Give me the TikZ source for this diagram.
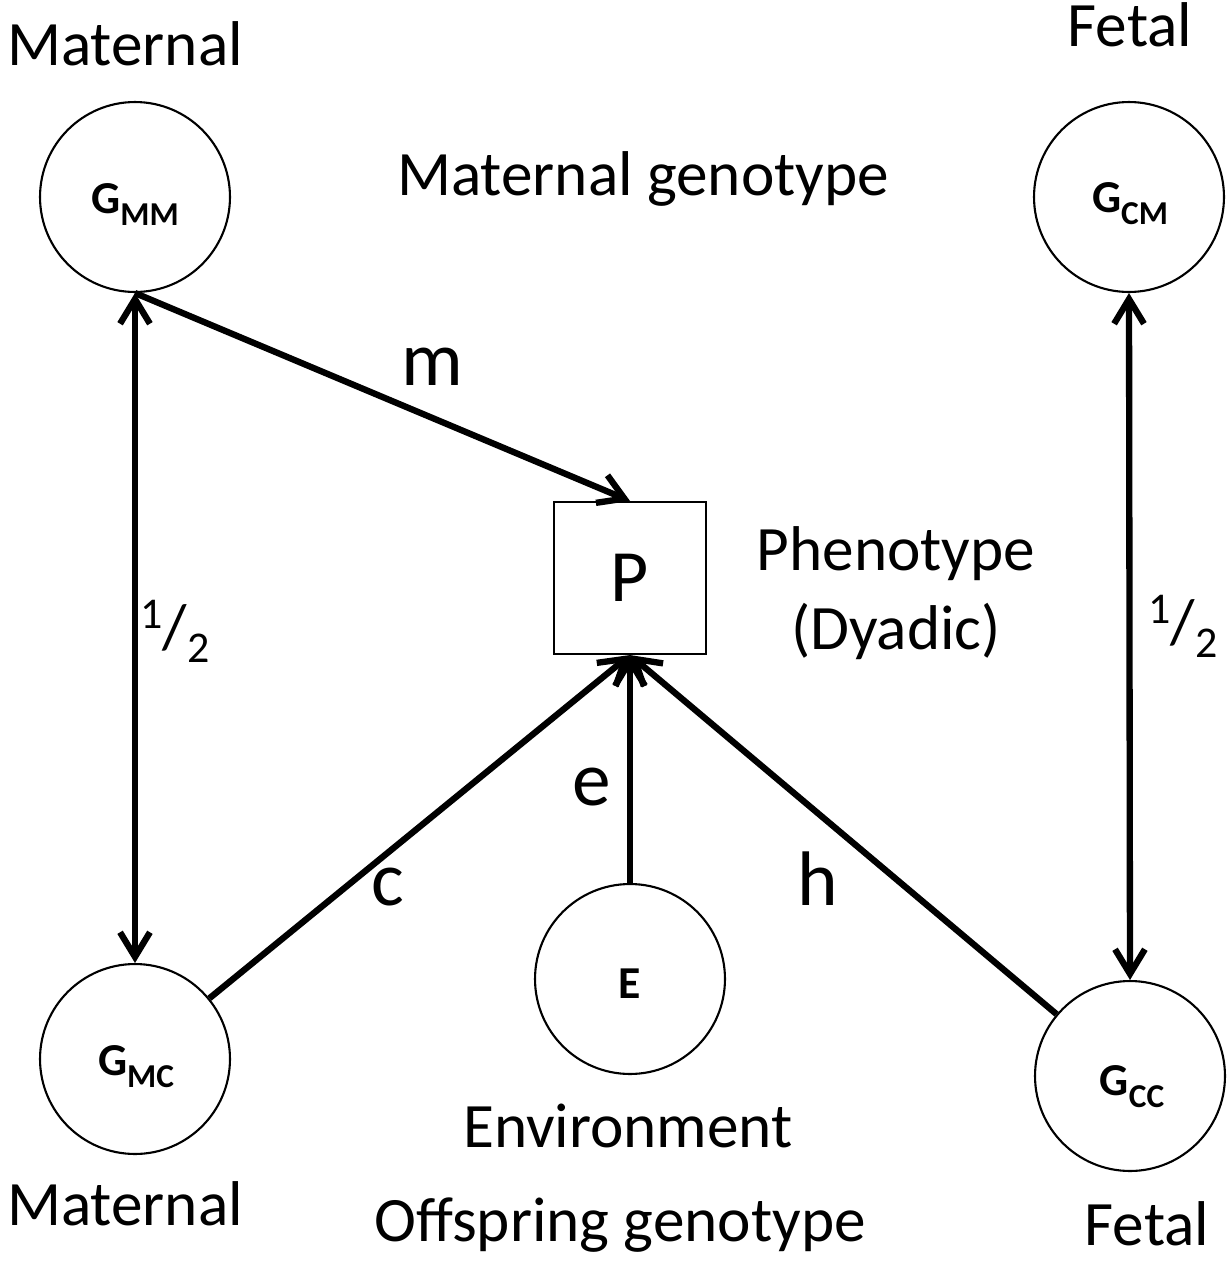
\documentclass[tikz,border=0pt]{standalone}
\usepackage{fontspec}
\setmainfont{Carlito}
\usetikzlibrary{arrows.meta}
\tikzset{>={Straight Barb[length=14pt,width=17pt]}}
\tikzset{
	gnode/.style={circle, draw, line width=1.2pt, minimum size=3.8cm, inner sep=0pt},
	pbox/.style={draw, line width=1.2pt, minimum size=3.04cm, inner sep=0pt, font=\fontsize{42}{48}\selectfont},
	path/.style={line width=3.6pt},
	txt/.style={anchor=base, inner sep=0pt, font=\fontsize{36}{42}\selectfont},
	coef/.style={anchor=base, inner sep=0pt, font=\fontsize{44}{50}\selectfont},
	glab/.style={anchor=base, inner sep=0pt, font=\bfseries\fontsize{26}{30}\selectfont}
}
\newcommand{\gsub}[1]{G\raisebox{-7pt}{\fontsize{19}{22}\selectfont #1}}
\newcommand{\half}{\raisebox{11pt}{\fontsize{25}{28}\selectfont 1}/\raisebox{-8pt}{\fontsize{25}{28}\selectfont 2}}

\begin{document}
\begin{tikzpicture}[x=0.02cm, y=-0.02cm]
	\useasboundingbox (0,0) rectangle (1229,1265);

	% nodes
	\node[gnode] (gmm) at (135,197) {};
	\node[gnode] (gcm) at (1129,197) {};
	\node[gnode] (gmc) at (135,1059) {};
	\node[gnode] (gcc) at (1130,1076) {};
	\node[gnode] (env) at (630,979) {};
	\node[pbox] (p) at (630,578) {P};

	\node[glab] (lgmm) at (135,213) {\gsub{MM}};
	\node[glab] (lgcm) at (1130,212) {\gsub{CM}};
	\node[glab] (lgmc) at (136,1075) {\gsub{MC}};
	\node[glab] (lgcc) at (1132,1095) {\gsub{CC}};
	\node[glab] (lenv) at (630,998) {E};

	% paths
	\draw[path][<->](gmm.south)--(gmc.north);
	\draw[path][<->](gcm.south)--(gcc.north);
	\draw[path][->](gmm.south)--(p.north);
	\draw[path][->](gmc)--(p.south);
	\draw[path][->](env.north)--(p.south);
	\draw[path][->](gcc)--(p.south);

	% texts
	\node[txt] (tmat1) at (125,65){Maternal};
	\node[txt] (tfet1) at (1130,46){Fetal};
	\node[txt] (tmgen) at (643,195){Maternal genotype};
	\node[txt] (tphen) at (896,570){Phenotype};
	\node[txt] (tdyad) at (896,649){(Dyadic)};
	\node[txt] (tenv) at (628,1147){Environment};
	\node[txt] (tmat2) at (125,1225){Maternal};
	\node[txt] (togen) at (620,1241){Offspring genotype};
	\node[txt] (tfet2) at (1147,1245){Fetal};

	\node[txt] (hl) at (175,648){\half};
	\node[txt] (hr) at (1183,643){\half};

	\node[coef] (cm) at (432,385){m};
	\node[coef] (ce) at (592,805){e};
	\node[coef] (cc) at (388,905){c};
	\node[coef] (ch) at (818,905){h};
\end{tikzpicture}
\end{document}
